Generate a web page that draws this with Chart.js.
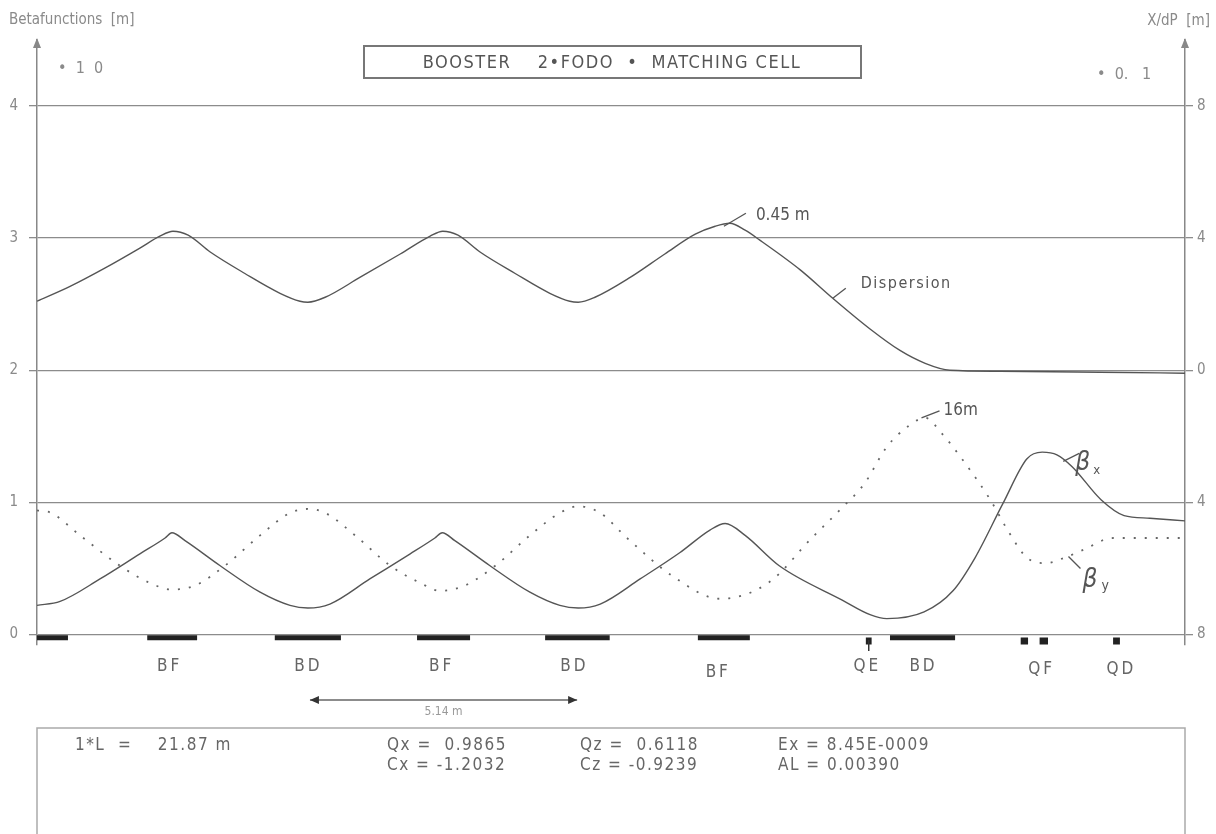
<!DOCTYPE html>
<html>
<head>
<meta charset="utf-8">
<script src="https://cdn.jsdelivr.net/npm/chart.js@4.4.1/dist/chart.umd.min.js"></script>
<style>
  body { margin: 0; background: #fff; }
  canvas { display: block; }
</style>
</head>
<body>
<canvas id="MyChart" width="1216" height="834"></canvas>
<script>
// lattice length (m)
const cellLength = 21.87;

// dispersion X/dP, right axis (units of 0.1 m)
const dispS = [0, 0.63, 1.30, 1.96, 2.34, 2.59, 2.88, 3.30, 3.96, 4.63, 5.01, 5.16, 5.49, 6.15, 6.92, 7.49, 7.73, 8.02, 8.44, 9.11, 9.77, 10.15, 10.31, 10.63, 11.30, 11.96, 12.54, 12.92, 13.20, 13.49, 13.77, 14.54, 15.16, 15.87, 16.44, 16.92, 17.39, 18.35, 20.25, 21.87];
const dispD = [2.09, 2.54, 3.10, 3.70, 4.06, 4.21, 4.09, 3.58, 2.93, 2.33, 2.09, 2.06, 2.21, 2.81, 3.52, 4.06, 4.21, 4.09, 3.58, 2.93, 2.33, 2.09, 2.06, 2.21, 2.81, 3.52, 4.12, 4.36, 4.45, 4.24, 3.94, 3.04, 2.18, 1.25, 0.60, 0.21, 0.00, -0.03, -0.06, -0.09];

// beta x, left axis (units of 10 m)
const bxS = [0, 0.44, 1.20, 1.96, 2.44, 2.57, 2.82, 3.49, 4.25, 4.82, 5.16, 5.58, 6.34, 7.11, 7.58, 7.72, 7.96, 8.63, 9.39, 9.96, 10.31, 10.73, 11.49, 12.25, 12.82, 13.11, 13.49, 14.14, 15.34, 15.87, 16.19, 16.90, 17.45, 17.87, 18.40, 18.86, 19.15, 19.43, 19.72, 20.27, 20.71, 21.20, 21.87];
const bxV = [0.22, 0.25, 0.42, 0.61, 0.73, 0.77, 0.71, 0.52, 0.32, 0.22, 0.20, 0.23, 0.42, 0.61, 0.73, 0.77, 0.71, 0.52, 0.32, 0.22, 0.20, 0.23, 0.42, 0.62, 0.79, 0.84, 0.75, 0.52, 0.26, 0.15, 0.12, 0.17, 0.33, 0.58, 0.99, 1.33, 1.38, 1.36, 1.27, 1.02, 0.90, 0.88, 0.86];

// beta y, left axis (units of 10 m)
const byS = [0, 0.27, 0.82, 1.58, 2.15, 2.57, 3.01, 3.58, 4.25, 4.82, 5.16, 5.49, 6.06, 6.73, 7.30, 7.68, 8.15, 8.73, 9.39, 9.96, 10.31, 10.73, 11.24, 12.15, 13.01, 13.93, 14.76, 15.34, 15.76, 16.19, 16.61, 16.92, 17.24, 17.60, 18.16, 18.52, 18.86, 19.22, 19.57, 19.93, 20.50, 21.87];
const byV = [0.94, 0.92, 0.75, 0.52, 0.39, 0.34, 0.37, 0.52, 0.75, 0.92, 0.95, 0.92, 0.75, 0.52, 0.39, 0.33, 0.37, 0.52, 0.75, 0.92, 0.97, 0.92, 0.73, 0.43, 0.27, 0.39, 0.73, 0.96, 1.14, 1.42, 1.58, 1.64, 1.52, 1.34, 1.02, 0.77, 0.58, 0.54, 0.58, 0.64, 0.73, 0.73];

// magnets (start, end in m)
const bendStart = [0, 2.10, 4.53, 7.24, 9.68, 12.59, 16.25];
const bendEnd   = [0.59, 3.05, 5.79, 8.25, 10.91, 13.58, 17.49];
const quadStart = [15.79, 18.74, 19.10, 20.50];
const quadEnd   = [15.90, 18.88, 19.26, 20.63];
const magnetNames = ['BF', 'BD', 'BF', 'BD', 'BF', 'QE', 'BD', 'QF', 'QD'];
const magnetLabelS = [2.50, 5.14, 7.68, 10.21, 12.95, 15.79, 16.86, 19.11, 20.63];

// axis ticks
const leftTicks = [0, 1, 2, 3, 4];
const rightTicks = [-8, -4, 0, 4, 8];

// cell parameters
const paramLines = [
  ['1*L  =    21.87 m', 'Qx =  0.9865', 'Qz =  0.6118', 'Ex = 8.45E-0009'],
  ['', 'Cx = -1.2032', 'Cz = -0.9239', 'AL = 0.00390']
];

function toPoints(xs, ys) {
  return xs.map((x, i) => ({ x: x, y: ys[i] }));
}
function segments(starts, ends, level) {
  const pts = [];
  starts.forEach((s, i) => {
    pts.push({ x: s, y: level });
    pts.push({ x: ends[i], y: level });
    pts.push({ x: ends[i], y: null });
  });
  return pts;
}

const LINE = '#555';
const FONT = '"DejaVu Sans Condensed", "DejaVu Sans", sans-serif';

const decor = {
  id: 'decor',
  afterDraw(chart) {
    const c = chart.ctx;
    const xs = chart.scales.x, y = chart.scales.y, y2 = chart.scales.y2;
    const area = chart.chartArea;
    c.save();

    // axis arrows
    c.fillStyle = '#888';
    [area.left, area.right].forEach(ax => {
      c.beginPath();
      c.moveTo(ax, area.top - 2);
      c.lineTo(ax - 4, area.top + 8);
      c.lineTo(ax + 4, area.top + 8);
      c.closePath();
      c.fill();
    });

    // corner texts
    c.fillStyle = '#8a8a8a';
    c.textBaseline = 'middle';
    c.font = '15px ' + FONT;
    c.textAlign = 'left';
    c.fillText('Betafunctions  [m]', 9, 20);
    c.textAlign = 'right';
    c.fillText('X/dP  [m]', 1210, 21);
    c.font = '16px ' + FONT;
    c.textAlign = 'left';
    c.fillText('\u2022  1  0', 58, 69);
    c.fillText('\u2022  0.   1', 1097, 75);

    // title box
    c.strokeStyle = '#777';
    c.lineWidth = 2;
    c.strokeRect(364, 46, 497, 32);
    c.fillStyle = '#555';
    c.font = '18px ' + FONT;
    c.letterSpacing = '1.5px';
    c.textAlign = 'center';
    c.fillText('BOOSTER    2\u2022FODO  \u2022  MATCHING CELL', 612, 63);
    c.letterSpacing = '0px';

    // curve annotations
    c.strokeStyle = '#555';
    c.lineWidth = 1.3;
    c.fillStyle = '#555';
    c.textAlign = 'left';
    function leader(px, py, dx, dy) {
      c.beginPath();
      c.moveTo(px, py);
      c.lineTo(px + dx, py + dy);
      c.stroke();
    }
    let px = xs.getPixelForValue(13.2), py = y2.getPixelForValue(4.45);
    leader(px - 6, py + 3, 22, -13);
    c.font = '17px ' + FONT;
    c.fillText('0.45 m', px + 26, py - 8);

    px = xs.getPixelForValue(15.16); py = y2.getPixelForValue(2.18);
    leader(px, py, 13, -10);
    c.font = '16px ' + FONT;
    c.letterSpacing = '1.5px';
    c.fillText('Dispersion', px + 28, py - 14);
    c.letterSpacing = '0px';

    px = xs.getPixelForValue(16.85); py = y.getPixelForValue(1.64);
    leader(px, py, 18, -7);
    c.font = '17px ' + FONT;
    c.fillText('16m', px + 22, py - 7);

    px = xs.getPixelForValue(19.55); py = y.getPixelForValue(1.31);
    leader(px, py, 16, -8);
    c.font = 'italic 26px ' + FONT;
    c.fillText('\u03b2', px + 12, py + 2);
    c.font = '13px ' + FONT;
    c.fillText('x', px + 30, py + 9);

    px = xs.getPixelForValue(19.65); py = y.getPixelForValue(0.59);
    leader(px, py, 12, 12);
    c.font = 'italic 26px ' + FONT;
    c.fillText('\u03b2', px + 14, py + 24);
    c.font = '14px ' + FONT;
    c.fillText('y', px + 33, py + 30);

    // magnet labels
    c.fillStyle = '#666';
    c.font = '17px ' + FONT;
    c.textAlign = 'center';
    c.letterSpacing = '3px';
    magnetNames.forEach((n, i) => {
      const lx = xs.getPixelForValue(magnetLabelS[i]);
      const ly = (n === 'BF' && i === 4) ? 673 : (n[0] === 'Q' && n !== 'QE') ? 670 : 667;
      c.fillText(n, lx + 1.5, ly);
    });
    c.letterSpacing = '0px';

    // QE marker tail
    c.strokeStyle = '#333';
    c.lineWidth = 1.5;
    const qe = xs.getPixelForValue((quadStart[0] + quadEnd[0]) / 2);
    c.beginPath();
    c.moveTo(qe, 640);
    c.lineTo(qe, 651);
    c.stroke();

    // period arrow
    const a0 = xs.getPixelForValue(5.2), a1 = xs.getPixelForValue(10.29);
    c.strokeStyle = '#666';
    c.lineWidth = 1.3;
    c.beginPath();
    c.moveTo(a0, 700);
    c.lineTo(a1, 700);
    c.stroke();
    c.fillStyle = '#333';
    c.beginPath();
    c.moveTo(a0, 700); c.lineTo(a0 + 9, 696); c.lineTo(a0 + 9, 704); c.closePath(); c.fill();
    c.beginPath();
    c.moveTo(a1, 700); c.lineTo(a1 - 9, 696); c.lineTo(a1 - 9, 704); c.closePath(); c.fill();
    c.fillStyle = '#999';
    c.font = '12px ' + FONT;
    c.textAlign = 'center';
    c.fillText('5.14 m', (a0 + a1) / 2, 712);

    // parameter box
    c.strokeStyle = '#aaa';
    c.lineWidth = 1.5;
    c.strokeRect(37, 728, 1148, 140);
    c.fillStyle = '#666';
    c.font = '17px ' + FONT;
    c.letterSpacing = '1.5px';
    c.textAlign = 'left';
    const colX = [75, 387, 580, 778];
    paramLines.forEach((row, r) => {
      row.forEach((t, k) => {
        if (t) c.fillText(t, colX[k], 746 + r * 20);
      });
    });
    c.letterSpacing = '0px';

    c.restore();
  }
};

const ctx = document.getElementById('MyChart').getContext('2d');
const myChart = new Chart(ctx, {
  type: 'line',
  data: {
    datasets: [
      {
        label: 'Dispersion',
        data: toPoints(dispS, dispD),
        yAxisID: 'y2',
        borderColor: LINE,
        borderWidth: 1.4,
        pointRadius: 0,
        cubicInterpolationMode: 'monotone',
        fill: false
      },
      {
        label: 'beta x',
        data: toPoints(bxS, bxV),
        yAxisID: 'y',
        borderColor: LINE,
        borderWidth: 1.4,
        pointRadius: 0,
        cubicInterpolationMode: 'monotone',
        fill: false
      },
      {
        label: 'beta y',
        data: toPoints(byS, byV),
        yAxisID: 'y',
        borderColor: '#666',
        borderWidth: 1.8,
        borderDash: [2, 9],
        pointRadius: 0,
        cubicInterpolationMode: 'monotone',
        fill: false
      },
      {
        label: 'bends',
        data: segments(bendStart, bendEnd, -0.025),
        yAxisID: 'y',
        borderColor: '#222',
        borderWidth: 5,
        borderCapStyle: 'butt',
        pointRadius: 0,
        tension: 0,
        spanGaps: false,
        fill: false
      },
      {
        label: 'quads',
        data: segments(quadStart, quadEnd, -0.05),
        yAxisID: 'y',
        borderColor: '#222',
        borderWidth: 7,
        borderCapStyle: 'butt',
        pointRadius: 0,
        tension: 0,
        spanGaps: false,
        fill: false
      }
    ]
  },
  options: {
    responsive: false,
    animation: false,
    layout: { padding: { top: 40, bottom: 189, left: 0, right: 0 } },
    plugins: {
      legend: { display: false },
      tooltip: { enabled: false }
    },
    scales: {
      x: {
        type: 'linear',
        min: 0,
        max: cellLength,
        display: false
      },
      y: {
        position: 'left',
        min: -0.08,
        max: 4.5,
        afterFit: s => { s.width = 37; },
        afterBuildTicks: s => { s.ticks = leftTicks.map(v => ({ value: v })); },
        grid: { color: '#8c8c8c', lineWidth: 1.3, tickLength: 8 },
        border: { display: true, color: '#888', width: 1.5 },
        ticks: { padding: 11, color: '#8a8a8a', font: { size: 15, family: FONT } }
      },
      y2: {
        position: 'right',
        min: -8.32,
        max: 10,
        afterFit: s => { s.width = 31; },
        afterBuildTicks: s => { s.ticks = rightTicks.map(v => ({ value: v })); },
        grid: { drawOnChartArea: false, color: '#8c8c8c', lineWidth: 1.3, tickLength: 8 },
        border: { display: true, color: '#888', width: 1.5 },
        ticks: {
          padding: 4,
          color: '#8a8a8a',
          font: { size: 15, family: FONT },
          callback: v => String(Math.abs(v))
        }
      }
    }
  },
  plugins: [decor]
});
</script>
</body>
</html>
